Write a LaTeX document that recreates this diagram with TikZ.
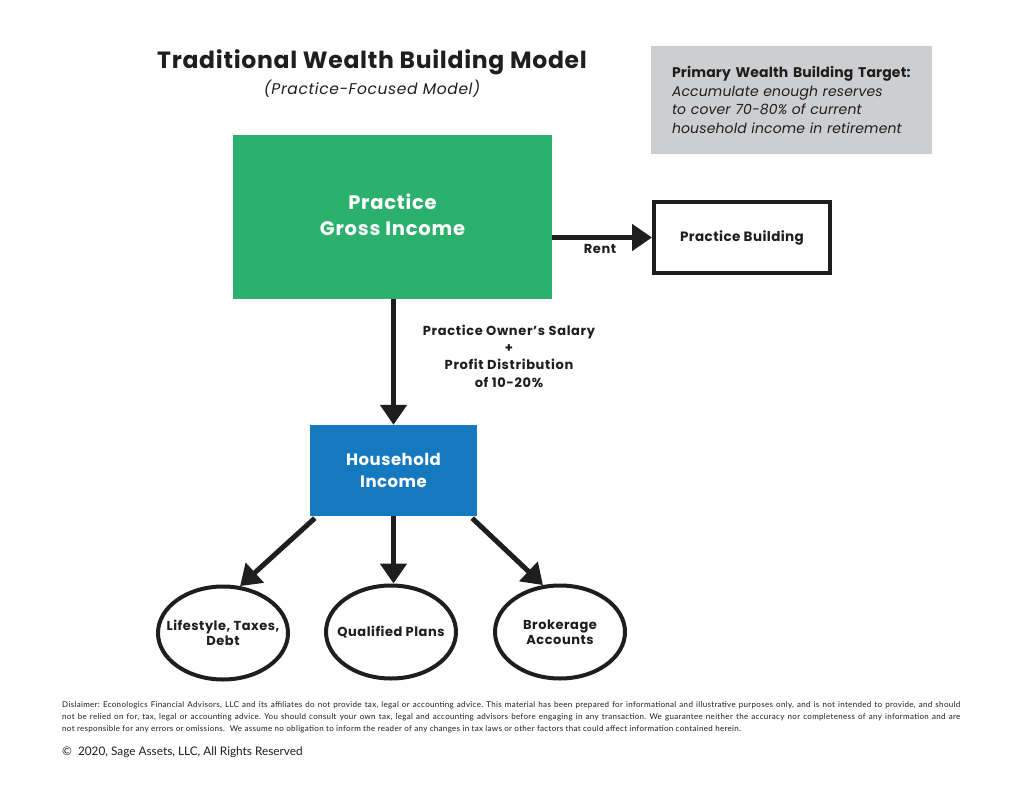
\documentclass[tikz,border=0pt]{standalone}
\usepackage{fontspec}
\setmainfont{Poppins}
\newfontfamily\notefont{Lato}
\newcommand\tracking[1]{\addfontfeatures{LetterSpace=#1}}
\usetikzlibrary{arrows.meta,shapes.geometric}
\definecolor{grossgreen}{RGB}{43,176,110}
\definecolor{homeblue}{RGB}{20,121,191}
\definecolor{targetgray}{RGB}{205,206,208}
\definecolor{inkblack}{RGB}{30,30,30}
\tikzset{
	flow/.style={draw=inkblack, line width=5pt, -{Triangle[length=20pt,width=26pt]}},
	bubble/.style={ellipse, draw=inkblack, line width=4pt, minimum width=130pt, minimum height=93pt},
	bubbletext/.style={align=center, font=\fontsize{13}{15.5}\selectfont\bfseries\tracking{4}, text=inkblack},
	flowtext/.style={align=center, font=\fontsize{13}{17.3}\selectfont\bfseries\tracking{5}, text=inkblack},
}
\begin{document}
\frenchspacing
\begin{tikzpicture}[x=1pt, y=-1pt]
		%%%%% START %%%%%
		\useasboundingbox[fill=white] (0, 0) rectangle (1024, 791);
		
		\node[font=\fontsize{23.5}{26}\selectfont\bfseries\tracking{3}, text=inkblack] (title) at (372, 62) {Traditional Wealth Building Model};
		\node[font=\fontsize{15.5}{17}\selectfont\itshape\tracking{4}, text=inkblack] (subtitle) at (372, 89) {(Practice-Focused Model)};
		
		\node[fill=targetgray, minimum width=281pt, minimum height=108pt, text width=239pt, inner xsep=21pt, align=left,
			font=\fontsize{14}{18.7}\selectfont\tracking{1}, text=inkblack] (target) at (791.5, 100)
			{\textbf{Primary Wealth Building Target:}\\ \textit{Accumulate enough reserves}\\ \textit{to cover 70-80\% of current}\\ \textit{household income in retirement}};
		
		\node[fill=grossgreen, minimum width=319pt, minimum height=164pt, align=center, text=white,
			font=\fontsize{19.5}{26}\selectfont\bfseries\tracking{4}] (gross) at (392.5, 217) {Practice\\Gross Income\vphantom{g}};
		
		\node[draw=inkblack, line width=4pt, minimum width=176pt, minimum height=71pt,
			font=\fontsize{13.5}{16}\selectfont\bfseries\tracking{3}, text=inkblack] (building) at (742, 237.5) {Practice Building};
		
		\node[fill=homeblue, minimum width=167pt, minimum height=91pt, align=center, text=white,
			font=\fontsize{16.5}{22}\selectfont\bfseries\tracking{3}] (household) at (393.5, 470.5) {Household\\Income};
		
		\node[bubble] (lifestyle) at (223, 633) {};
		\node[bubbletext] (lifestyletext) at (lifestyle) {Lifestyle, Taxes,\\Debt};
		\node[bubble] (qualified) at (391, 632) {};
		\node[bubbletext] (qualifiedtext) at (qualified) {Qualified Plans};
		\node[bubble] (brokerage) at (560, 632) {};
		\node[bubbletext] (brokeragetext) at (brokerage) {Brokerage\\Accounts};
		
		% connectors
		\draw[flow] (gross.east |- building.west) -- (building.west);
		\node[flowtext] (rent) at (600, 249) {Rent};
		
		\draw[flow] (household.north |- gross.south) -- (household.north);
		\node[flowtext] (salary) at (509, 356) {Practice Owner's Salary\\+\\Profit Distribution\\of 10-20\%};
		
		\draw[flow] ([xshift=5pt, yshift=-2pt]household.south west) -- (lifestyle.70);
		\draw[flow] (household.south) -- (household.south |- qualified.north);
		\draw[flow] ([xshift=-5pt, yshift=-2pt]household.south east) -- (brokerage.110);
		
		% footer
		\node[anchor=north west, inner sep=0pt, align=left, font=\notefont\fontsize{8}{12}\selectfont\tracking{4}, text=inkblack] (disclaimer) at (62, 701)
			{\makebox[898pt][s]{Dislaimer: Econologics Financial Advisors, LLC and its affiliates do not provide tax, legal or accounting advice. This material has been prepared for informational and illustrative purposes only, and is not intended to provide, and should}\\
			\makebox[898pt][s]{not be relied on for, tax, legal or accounting advice. You should consult your own tax, legal and accounting advisors before engaging in any transaction. We guarantee neither the accuracy nor completeness of any information and are}\\
			not responsible for any errors or omissions.\ \ We assume no obligation to inform the reader of any changes in tax laws or other factors that could affect information contained herein.};
		\node[anchor=west, inner sep=0pt, font=\notefont\fontsize{11.8}{13}\selectfont, text=inkblack] (copyright) at (62, 752) {\textcopyright\ \ 2020, Sage Assets, LLC, All Rights Reserved};
		%%%%% END %%%%%
\end{tikzpicture}
\end{document}
